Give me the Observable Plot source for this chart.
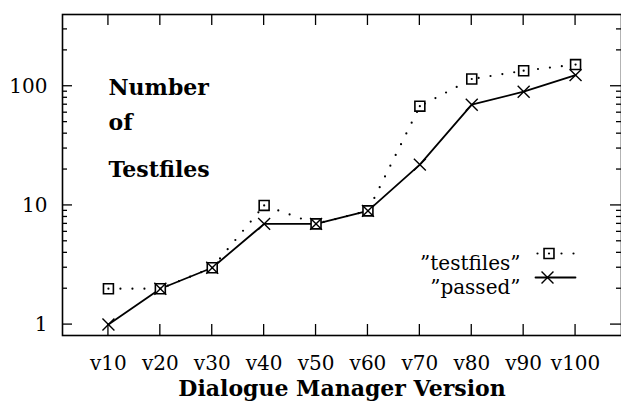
<!DOCTYPE html>
<html><head><meta charset="utf-8">
<script src="https://cdn.jsdelivr.net/npm/d3@7"></script>
<script src="https://cdn.jsdelivr.net/npm/@observablehq/plot@0.6"></script>
<style>html,body{margin:0;padding:0;background:#fff;}</style>
</head><body><div id="chart"></div>
<script>
const versions = ["v10","v20","v30","v40","v50","v60","v70","v80","v90","v100"];
const testfiles = [2, 2, 3, 10, 7, 9, 68, 115, 135, 152];
const passed = [1, 2, 3, 7, 7, 9, 22, 70, 90, 124];
const yMajorTicks = [1, 10, 100];
const yMinorTicks = [2,3,4,5,6,7,8,9,20,30,40,50,60,70,80,90,200,300];
const titleLines = ["Number", "of", "Testfiles"];
const xLabel = "Dialogue Manager Version";
const seriesNames = ["\u201Dtestfiles\u201D", "\u201Dpassed\u201D"];

const rows = versions.map((v, i) => ({version: v, testfiles: testfiles[i], passed: passed[i]}));
const lineShape = {draw(ctx, l) { ctx.moveTo(0, 0); ctx.lineTo(0, -l); }};
const titleDy = [65, 100, 147];

const W = 621, H = 401, mT = 14, mB = 66, mL = 62, mR = 0;

const chart = Plot.plot({
  width: W, height: H,
  marginTop: mT, marginBottom: mB, marginLeft: mL, marginRight: mR,
  style: {fontFamily: "DejaVu Serif", fontSize: "20px", background: "white", color: "black", overflow: "visible"},
  x: {type: "point", domain: versions, padding: 0.885, round: false},
  y: {type: "log", domain: [0.81, 400]},
  marks: [
    // tick labels
    Plot.axisX({anchor: "bottom", tickSize: 0, tickPadding: 20, label: null}),
    Plot.axisY({anchor: "left", ticks: yMajorTicks, tickSize: 0, tickPadding: 15, tickFormat: d => String(d), label: null}),
    // series
    Plot.line(rows, {x: "version", y: "testfiles", stroke: "black", strokeWidth: 2.2, strokeDasharray: "0,12", strokeLinecap: "round"}),
    Plot.line(rows, {x: "version", y: "passed", stroke: "black", strokeWidth: 1.8}),
    Plot.dot(rows, {x: "version", y: "testfiles", symbol: "square", r: 5.6, fill: "white", stroke: "black", strokeWidth: 1.6}),
    Plot.dot(rows, {x: "version", y: "testfiles", r: 1.1, fill: "black", stroke: null}),
    Plot.dot(rows, {x: "version", y: "passed", symbol: "times", r: 5.5, stroke: "black", strokeWidth: 1.4}),
    // title inside
    ...titleLines.map((t, i) => Plot.text([t], {text: d => d, frameAnchor: "top-left", dx: 46, dy: titleDy[i], textAnchor: "start", lineAnchor: "top", fontWeight: "bold", fontSize: 22})),
    // x label
    Plot.text([xLabel], {text: d => d, frameAnchor: "bottom", dy: 45, lineAnchor: "top", fontWeight: "bold", fontSize: 22}),
    // legend
    Plot.text([seriesNames[0]], {text: d => d, frameAnchor: "top-right", dx: -101, dy: 241.6, textAnchor: "end"}),
    Plot.text([seriesNames[1]], {text: d => d, frameAnchor: "top-right", dx: -101, dy: 265.6, textAnchor: "end"}),
    Plot.vector([0], {frameAnchor: "top-right", dx: -84, dy: 239, rotate: 90, length: 37, anchor: "start", shape: lineShape, stroke: "black", strokeWidth: 2.2, strokeDasharray: "0,12", strokeLinecap: "round"}),
    Plot.dot([0], {frameAnchor: "top-right", dx: -72.5, dy: 239, symbol: "square", r: 5.6, fill: "white", stroke: "black", strokeWidth: 1.6}),
    Plot.dot([0], {frameAnchor: "top-right", dx: -72.5, dy: 239, r: 1.1, fill: "black", stroke: null}),
    Plot.vector([0], {frameAnchor: "top-right", dx: -86, dy: 263, rotate: 90, length: 40, anchor: "start", shape: lineShape, stroke: "black", strokeWidth: 1.8}),
    Plot.dot([0], {frameAnchor: "top-right", dx: -74, dy: 263, symbol: "times", r: 5.5, stroke: "black", strokeWidth: 1.4}),
    Plot.frame({strokeWidth: 1.6})
  ]
});
document.getElementById("chart").appendChild(chart);

// Inward tick marks on all four frame edges, positioned with Plot's own scales
const sx = chart.scale("x"), sy = chart.scale("y");
const svg = d3.select(chart.tagName.toLowerCase() === "svg" ? chart : chart.querySelector("svg"));
const tg = svg.append("g").attr("stroke", "black").attr("stroke-width", 1.3).attr("fill", "none");
const yBottom = H - mB, yTop = mT, xLeft = mL, xRight = W - mR;
for (const v of versions) {
  const x = sx.apply(v);
  tg.append("line").attr("x1", x).attr("x2", x).attr("y1", yBottom).attr("y2", yBottom - 11);
  tg.append("line").attr("x1", x).attr("x2", x).attr("y1", yTop).attr("y2", yTop + 11);
}
for (const [ticks, len] of [[yMajorTicks, 10], [yMinorTicks, 5]]) {
  for (const t of ticks) {
    const y = sy.apply(t);
    tg.append("line").attr("x1", xLeft).attr("x2", xLeft + len).attr("y1", y).attr("y2", y);
    tg.append("line").attr("x1", xRight).attr("x2", xRight - len - (len > 5 ? 1 : 0)).attr("y1", y).attr("y2", y);
  }
}
</script>
</body></html>
